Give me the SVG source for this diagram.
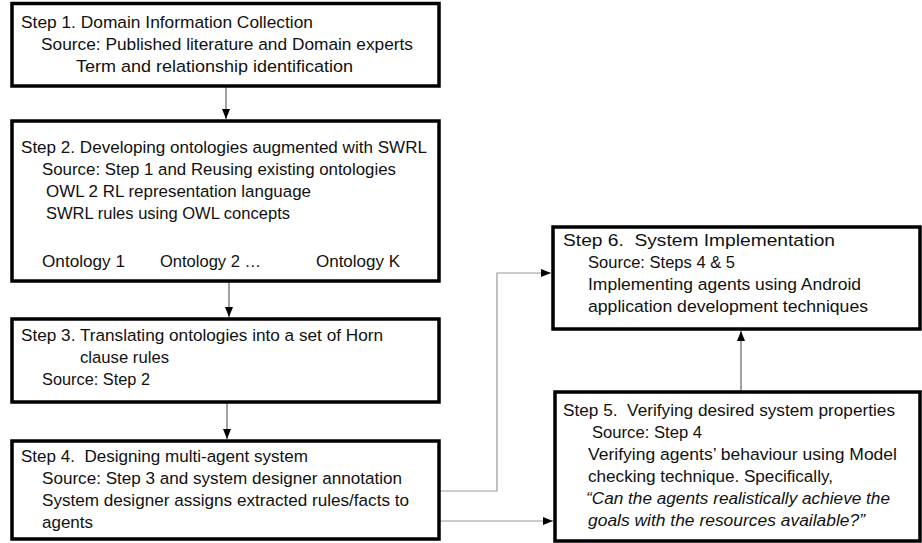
<svg xmlns="http://www.w3.org/2000/svg" width="922" height="543" viewBox="0 0 922 543">
<style>
.box{fill:#fff;stroke:#000;stroke-width:3.5}
text{font-family:"Liberation Sans",Arial,sans-serif;font-size:16.8px;fill:#111;white-space:pre}
.it{font-style:italic}
.c{fill:none;stroke:#444;stroke-width:1}
.g{fill:none;stroke:#999;stroke-width:1.2}
</style>
<defs>
<marker id="ah" markerUnits="userSpaceOnUse" markerWidth="10" markerHeight="10" viewBox="0 0 10 10" refX="10" refY="5" orient="auto">
<path d="M0,1 L10,5 L0,9 Z" fill="#000"/>
</marker>
</defs>
<rect width="922" height="543" fill="#fff"/>
<g id="connectors">
<line class="c" x1="226" y1="86" x2="226" y2="119" marker-end="url(#ah)"/>
<line class="c" x1="229" y1="281" x2="229" y2="317" marker-end="url(#ah)"/>
<line class="c" x1="227" y1="402" x2="227" y2="439" marker-end="url(#ah)"/>
<polyline class="g" points="439,491 497,491 497,273 551,273" marker-end="url(#ah)"/>
<line class="g" x1="439" y1="521" x2="553" y2="521" marker-end="url(#ah)"/>
<line class="c" x1="741" y1="392" x2="741" y2="331" marker-end="url(#ah)"/>
</g>
<g id="step1">
<rect class="box" x="12" y="3.5" width="427" height="82.5"/>
<text x="21" y="28" textLength="292" lengthAdjust="spacingAndGlyphs">Step 1. Domain Information Collection</text>
<text x="41" y="50" textLength="372" lengthAdjust="spacingAndGlyphs">Source: Published literature and Domain experts</text>
<text x="76" y="72" textLength="277" lengthAdjust="spacingAndGlyphs">Term and relationship identification</text>
</g>
<g id="step2">
<rect class="box" x="12" y="121" width="427" height="160"/>
<text x="21" y="153" textLength="406" lengthAdjust="spacingAndGlyphs">Step 2. Developing ontologies augmented with SWRL</text>
<text x="42" y="175" textLength="354" lengthAdjust="spacingAndGlyphs">Source: Step 1 and Reusing existing ontologies</text>
<text x="46" y="197" textLength="265" lengthAdjust="spacingAndGlyphs">OWL 2 RL representation language</text>
<text x="46" y="219" textLength="244" lengthAdjust="spacingAndGlyphs">SWRL rules using OWL concepts</text>
<text x="42" y="267" textLength="83" lengthAdjust="spacingAndGlyphs">Ontology 1</text>
<text x="160" y="267" textLength="101" lengthAdjust="spacingAndGlyphs">Ontology 2 …</text>
<text x="316" y="267" textLength="84" lengthAdjust="spacingAndGlyphs">Ontology K</text>
</g>
<g id="step3">
<rect class="box" x="12" y="319" width="427" height="83"/>
<text x="21" y="341" textLength="362" lengthAdjust="spacingAndGlyphs">Step 3. Translating ontologies into a set of Horn</text>
<text x="80" y="363" textLength="89" lengthAdjust="spacingAndGlyphs">clause rules</text>
<text x="42" y="385" textLength="108" lengthAdjust="spacingAndGlyphs">Source: Step 2</text>
</g>
<g id="step4">
<rect class="box" x="12" y="441" width="427" height="98"/>
<text x="21" y="462" textLength="287" lengthAdjust="spacingAndGlyphs">Step 4.  Designing multi-agent system</text>
<text x="42" y="484" textLength="360" lengthAdjust="spacingAndGlyphs">Source: Step 3 and system designer annotation</text>
<text x="42" y="506" textLength="367" lengthAdjust="spacingAndGlyphs">System designer assigns extracted rules/facts to</text>
<text x="42" y="528" textLength="51" lengthAdjust="spacingAndGlyphs">agents</text>
</g>
<g id="step5">
<rect class="box" x="555" y="392" width="365" height="149"/>
<text x="563" y="416" textLength="332" lengthAdjust="spacingAndGlyphs">Step 5.  Verifying desired system properties</text>
<text x="592" y="438" textLength="110" lengthAdjust="spacingAndGlyphs">Source: Step 4</text>
<text x="588" y="460" textLength="309" lengthAdjust="spacingAndGlyphs">Verifying agents’ behaviour using Model</text>
<text x="588" y="482" textLength="245" lengthAdjust="spacingAndGlyphs">checking technique. Specifically,</text>
<text class="it" x="586" y="504" textLength="304" lengthAdjust="spacingAndGlyphs">“Can the agents realistically achieve the</text>
<text class="it" x="588" y="526" textLength="277" lengthAdjust="spacingAndGlyphs">goals with the resources available?”</text>
</g>
<g id="step6">
<rect class="box" x="553" y="227" width="367" height="102"/>
<text x="563" y="246" textLength="272" lengthAdjust="spacingAndGlyphs">Step 6.  System Implementation</text>
<text x="588" y="268" textLength="147" lengthAdjust="spacingAndGlyphs">Source: Steps 4 &amp; 5</text>
<text x="588" y="290" textLength="273" lengthAdjust="spacingAndGlyphs">Implementing agents using Android</text>
<text x="588" y="312" textLength="280" lengthAdjust="spacingAndGlyphs">application development techniques</text>
</g>
</svg>
